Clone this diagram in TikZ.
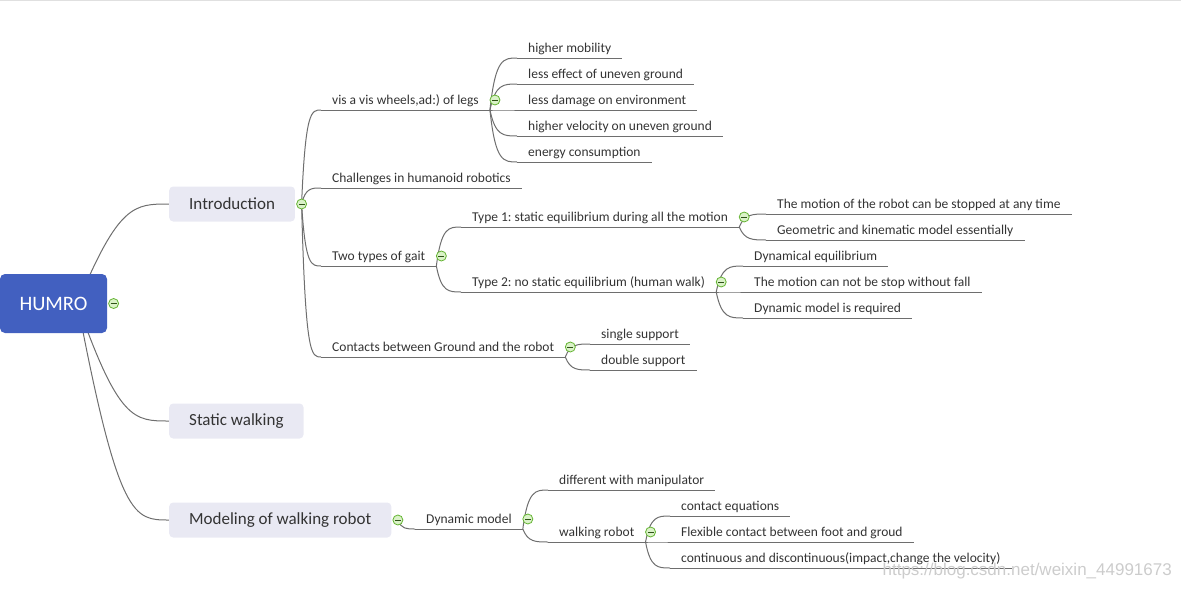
\documentclass[tikz,border=0pt]{standalone}
\usepackage{fontspec}
\setmainfont{Carlito}
\newfontfamily\markfont{Liberation Sans}
\frenchspacing
\usetikzlibrary{positioning, calc, backgrounds}
\definecolor{rootblue}{RGB}{66,96,192}
\definecolor{mainfill}{RGB}{233,233,243}
\definecolor{inkgray}{RGB}{51,51,51}
\definecolor{wiregray}{RGB}{110,110,110}
\definecolor{foldgreen}{RGB}{100,180,50}
\definecolor{foldfill}{RGB}{218,242,200}
\tikzset{
root/.style = {rectangle, rounded corners = 5pt, fill = rootblue, text = white,
   minimum width = 107pt, minimum height = 59pt, inner sep = 0pt,
   font = \fontsize{20.5}{24}\selectfont},
main/.style = {rectangle, rounded corners = 4pt, fill = mainfill, text = inkgray,
   inner xsep = 20pt, inner ysep = 0pt, minimum height = 35pt, anchor = west,
   font = \fontsize{17}{20}\selectfont},
leaf/.style = {inner xsep = 11pt, inner ysep = 0pt, text height = 9pt,
   text depth = 5.5pt, anchor = south west, text = inkgray,
   font = \fontsize{13.5}{16}\selectfont},
underline/.style = {draw = wiregray, line width = 1pt},
trunk/.style = {draw = wiregray, line width = 1pt,
   to path = {.. controls ($(\tikztostart |- \tikztotarget)!.45!(\tikztotarget)$)
   and ($(\tikztostart |- \tikztotarget)!.62!(\tikztotarget)$) .. (\tikztotarget)}},
twig/.style = {draw = wiregray, line width = 1pt,
   to path = {.. controls ($(\tikztostart |- \tikztotarget)!.2!(\tikztotarget)$)
   and ($(\tikztostart |- \tikztotarget)!.5!(\tikztotarget)$) .. (\tikztotarget)}},
fold/.style = {circle, draw = foldgreen, fill = foldfill, line width = .8pt,
   minimum size = 10pt, inner sep = 0pt,
   path picture = {\draw [foldgreen!45!black, line width = 1pt]
   ([xshift = -3pt]path picture bounding box.center) --
   ([xshift = 3pt]path picture bounding box.center);}},
watermark/.style = {anchor = east, text = black!20, inner sep = 0pt,
   font = \markfont\fontsize{17}{20}\selectfont}
}
\begin{document}
\begin{tikzpicture}[x = 1pt, y = -1pt]
\useasboundingbox (0,0) rectangle (1181,589);
\draw [black!12] (0,.5) -- (1181,.5);

%% Root and main topics
\node [root] (humro) at (53.5,303.5) {HUMRO};
\node [fold] (fhumro) [right = 1pt of humro] {};
\coordinate (hub) at ($(humro.center)+(24,0)$);

\node [main] (intro) at (169,204) {Introduction};
\node [fold] (fintro) [right = 1pt of intro] {};
\node [main] (static) at (169,421) {Static walking};
\node [main] (model) at (169,520) {Modeling of walking robot};
\node [fold] (fmodel) [right = 1pt of model] {};

%% Introduction
\node [leaf] (vis) at (321,110) {vis a vis wheels,ad:) of legs};
\node [leaf] (chal) at (321,188) {Challenges in humanoid robotics};
\node [leaf] (gait) at (321,266) {Two types of gait};
\node [leaf] (cont) at (321,357) {Contacts between Ground and the robot};

%% Advantages of legs
\node [leaf] (mob) at (517,58) {higher mobility};
\node [leaf] (eff) at (517,84) {less effect of uneven ground};
\node [leaf] (dam) at (517,110) {less damage on environment};
\node [leaf] (vel) at (517,136) {higher velocity on uneven ground};
\node [leaf] (ener) at (517,162) {energy consumption};

%% Gaits
\node [leaf] (typeA) at (461,227) {Type 1: static equilibrium during all the motion};
\node [leaf] (typeB) at (461,292) {Type 2: no static equilibrium (human walk)};
\node [leaf] (stopA) at (766,214) {The motion of the robot can be stopped at any time};
\node [leaf] (geom) at (766,240) {Geometric and kinematic model essentially};
\node [leaf] (dyneq) at (743,266) {Dynamical equilibrium};
\node [leaf] (stopB) at (743,292) {The motion can not be stop without fall};
\node [leaf] (dynreq) at (743,318) {Dynamic model is required};

%% Contacts
\node [leaf] (single) at (590,344) {single support};
\node [leaf] (double) at (590,370) {double support};

%% Modeling
\node [leaf] (dyn) at (415,529) {Dynamic model};
\node [leaf] (manip) at (548,490) {different with manipulator};
\node [leaf] (walk) at (548,542) {walking robot};
\node [leaf] (ceq) at (670,516) {contact equations};
\node [leaf] (flex) at (670,542) {Flexible contact between foot and groud};
\node [leaf] (disc) at (670,568) {continuous and discontinuous(impact,change the velocity)};

%% Fold buttons
\node [fold] (fvis) at ($(vis.south east)+(5,-10)$) {};
\node [fold] (fgait) at ($(gait.south east)+(5,-10)$) {};
\node [fold] (ftypeA) at ($(typeA.south east)+(5,-10)$) {};
\node [fold] (ftypeB) at ($(typeB.south east)+(5,-10)$) {};
\node [fold] (fcont) at ($(cont.south east)+(5,-10)$) {};
\node [fold] (fdyn) at ($(dyn.south east)+(5,-10)$) {};
\node [fold] (fwalk) at ($(walk.south east)+(5,-10)$) {};

%% Branches
\begin{scope}[on background layer]
\draw [trunk] (hub) to (intro.west);
\draw [trunk] (hub) to (static.west);
\draw [trunk] (hub) to (model.west);

\foreach \n in {vis, chal, gait, cont}
   \draw [twig] (fintro.center) to (\n.south west);
\foreach \n in {mob, eff, dam, vel, ener}
   \draw [twig] (vis.south east) to (\n.south west);
\foreach \n in {typeA, typeB}
   \draw [twig] (gait.south east) to (\n.south west);
\foreach \n in {stopA, geom}
   \draw [twig] (typeA.south east) to (\n.south west);
\foreach \n in {dyneq, stopB, dynreq}
   \draw [twig] (typeB.south east) to (\n.south west);
\foreach \n in {single, double}
   \draw [twig] (cont.south east) to (\n.south west);
\draw [twig] (fmodel.center) to (dyn.south west);
\foreach \n in {manip, walk}
   \draw [twig] (dyn.south east) to (\n.south west);
\foreach \n in {ceq, flex, disc}
   \draw [twig] (walk.south east) to (\n.south west);

%% Underlines
\foreach \n in {vis, chal, gait, cont, mob, eff, dam, vel, ener, typeA, typeB,
   stopA, geom, dyneq, stopB, dynreq, single, double, dyn, manip, walk, ceq,
   flex, disc}
   \draw [underline] (\n.south west) -- (\n.south east);
\end{scope}

\node [watermark] (mark) at (1172,571) {https://blog.csdn.net/weixin\_44991673};

\end{tikzpicture}
\end{document}
